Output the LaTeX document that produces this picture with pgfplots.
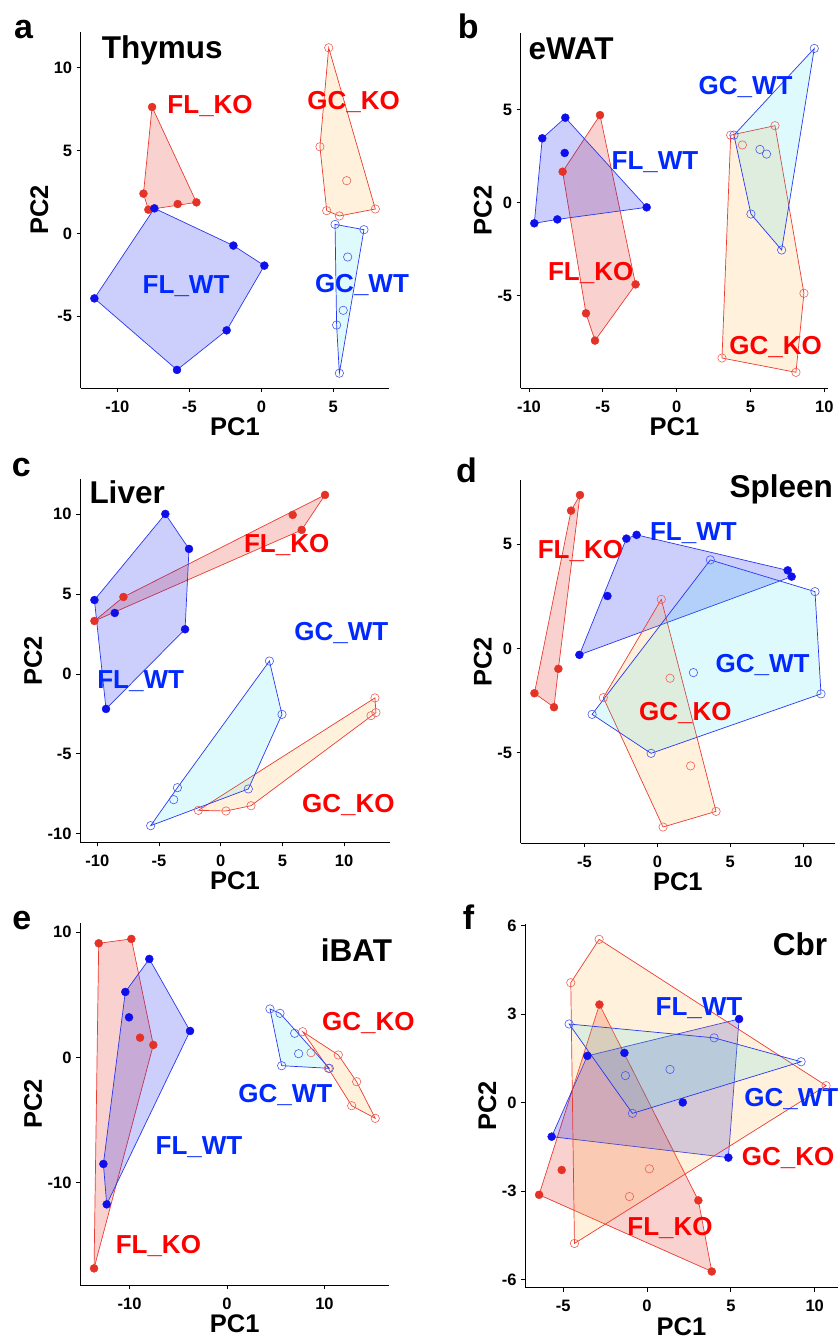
\documentclass[border=0pt]{standalone}
\usepackage{fontspec}
\setmainfont{Liberation Sans}
\usepackage{pgfplots}
\pgfplotsset{compat=1.18}

\definecolor{ptred}{RGB}{228,50,38}
\definecolor{ptblue}{RGB}{15,15,235}
\definecolor{opred}{RGB}{238,95,85}
\definecolor{opblue}{RGB}{70,90,240}
\definecolor{lnred}{RGB}{235,60,50}
\definecolor{lnblue}{RGB}{40,55,240}
\definecolor{txred}{RGB}{255,0,0}
\definecolor{txblue}{RGB}{0,40,255}
\definecolor{fwtfill}{RGB}{0,15,240}
\definecolor{gkofill}{RGB}{255,170,40}
\definecolor{gwtfill}{RGB}{0,215,240}

\pgfplotsset{
  pca/.style={
    scale only axis, anchor=south west, clip=false,
    axis lines=left, axis line style={-, line width=0.9pt, black},
    tick align=outside, major tick length=4pt,
    every tick/.style={black, line width=0.9pt},
    tick label style={font=\fontsize{16.5}{18}\selectfont\bfseries},
    xticklabel style={yshift=-5pt},
    yticklabel style={xshift=-1pt},
    /pgf/number format/assume math mode=true,
    label style={font=\fontsize{25.5}{28}\selectfont\bfseries},
    xlabel={PC1}, ylabel={PC2},
    xlabel style={at={(ticklabel cs:0.5)}, anchor=near ticklabel, inner sep=2pt},
    ylabel style={at={(ticklabel cs:0.5)}, anchor=near ticklabel, inner sep=2pt},
  },
  fko/.style={only marks, mark=*, mark size=4pt, color=ptred},
  fwt/.style={only marks, mark=*, mark size=4pt, color=ptblue},
  gko/.style={only marks, mark=o, mark size=4.2pt, color=opred, mark options={line width=0.6pt}},
  gwt/.style={only marks, mark=o, mark size=4.2pt, color=opblue, mark options={line width=0.6pt}},
  hfko/.style={draw=lnred, line width=0.7pt, fill=ptred, fill opacity=0.22},
  hfwt/.style={draw=lnblue, line width=0.7pt, fill=fwtfill, fill opacity=0.2},
  hgko/.style={draw=lnred, line width=0.7pt, fill=gkofill, fill opacity=0.17},
  hgwt/.style={draw=lnblue, line width=0.7pt, fill=gwtfill, fill opacity=0.13},
}

\tikzset{
  grp/.style={font=\fontsize{26}{30}\selectfont\bfseries, anchor=base, yshift=-9pt, inner sep=0pt},
  ttl/.style={anchor=base west, inner sep=0pt, font=\fontsize{31.5}{36}\selectfont\bfseries},
  lett/.style={anchor=base west, inner sep=0pt, font=\fontsize{34}{38}\selectfont\bfseries},
}

\begin{document}
\begin{tikzpicture}
\useasboundingbox (0,0) rectangle (838pt,1342pt);

% a Thymus
\begin{axis}[pca, at={(80.7pt,953.7pt)}, width=308.6pt, height=356.6pt,
  xmin=-12.55, xmax=8.89, ymin=-9.36, ymax=12.18,
  xtick={-10,-5,0,5}, ytick={-5,0,5,10}]
\addplot[fko] coordinates {(-7.59,7.63) (-8.19,2.40) (-7.85,1.43) (-5.81,1.77) (-4.51,1.87)};
\addplot[fwt] coordinates {(-7.43,1.51) (-1.94,-0.74) (0.21,-1.95) (-2.41,-5.86) (-5.86,-8.25) (-11.60,-3.93)};
\addplot[gko] coordinates {(4.68,11.21) (4.07,5.23) (5.93,3.18) (4.54,1.37) (5.42,1.05) (7.92,1.47)};
\addplot[gwt] coordinates {(5.12,0.54) (7.13,0.22) (6.00,-1.43) (5.69,-4.65) (5.23,-5.54) (5.42,-8.45)};
\addplot[hfko] coordinates {(-7.59,7.63) (-4.51,1.87) (-7.85,1.43) (-8.19,2.40)} -- cycle;
\addplot[hfwt] coordinates {(-7.43,1.51) (-1.94,-0.74) (0.21,-1.95) (-2.41,-5.86) (-5.86,-8.25) (-11.60,-3.93)} -- cycle;
\addplot[hgko] coordinates {(4.68,11.21) (7.92,1.47) (5.42,1.05) (4.54,1.37) (4.07,5.23)} -- cycle;
\addplot[hgwt] coordinates {(5.12,0.54) (7.13,0.22) (5.42,-8.45) (5.23,-5.54)} -- cycle;
\node[grp, txred] at (axis cs:-3.56,7.79) {FL\_KO};
\node[grp, txred] at (axis cs:6.41,8.05) {GC\_KO};
\node[grp, txblue] at (axis cs:-5.23,-3.08) {FL\_WT};
\node[grp, txblue] at (axis cs:6.99,-3.06) {GC\_WT};
\end{axis}

% b eWAT
\begin{axis}[pca, at={(520.7pt,953.7pt)}, width=307.6pt, height=355.6pt,
  xmin=-10.56, xmax=10.27, ymin=-10.0, ymax=9.16,
  xtick={-10,-5,0,5,10}, ytick={-5,0,5}]
\addplot[fko] coordinates {(-5.19,4.72) (-7.72,1.67) (-2.78,-4.40) (-6.14,-5.96) (-5.53,-7.43)};
\addplot[fwt] coordinates {(-7.54,4.58) (-9.10,3.47) (-7.58,2.68) (-2.03,-0.25) (-8.08,-0.90) (-9.64,-1.11)};
\addplot[gko] coordinates {(3.66,3.64) (4.45,3.11) (6.66,4.15) (8.62,-4.88) (8.08,-9.14) (3.07,-8.37)};
\addplot[gwt] coordinates {(9.32,8.31) (3.88,3.64) (5.64,2.87) (6.09,2.62) (5.03,-0.61) (7.11,-2.55)};
\addplot[hfko] coordinates {(-5.19,4.72) (-2.78,-4.40) (-5.53,-7.43) (-6.14,-5.96) (-7.72,1.67)} -- cycle;
\addplot[hfwt] coordinates {(-7.54,4.58) (-2.03,-0.25) (-8.08,-0.90) (-9.64,-1.11) (-9.10,3.47)} -- cycle;
\addplot[hgko] coordinates {(3.66,3.64) (6.66,4.15) (8.62,-4.88) (8.08,-9.14) (3.07,-8.37)} -- cycle;
\addplot[hgwt] coordinates {(9.32,8.31) (7.11,-2.55) (5.03,-0.61) (3.88,3.64)} -- cycle;
\node[grp, txblue] at (axis cs:4.67,6.34) {GC\_WT};
\node[grp, txblue] at (axis cs:-1.47,2.30) {FL\_WT};
\node[grp, txred] at (axis cs:-5.82,-3.72) {FL\_KO};
\node[grp, txred] at (axis cs:6.70,-7.72) {GC\_KO};
\end{axis}

% c Liver
\begin{axis}[pca, at={(80pt,499.7pt)}, width=310pt, height=363pt,
  xmin=-11.41, xmax=13.73, ymin=-10.54, ymax=12.19,
  xtick={-10,-5,0,5,10}, ytick={-10,-5,0,5,10}]
\addplot[fko] coordinates {(8.46,11.21) (5.84,9.96) (6.57,9.02) (-7.89,4.82) (-10.24,3.32)};
\addplot[fwt] coordinates {(-4.49,10.02) (-2.57,7.83) (-2.89,2.80) (-9.30,-2.19) (-10.24,4.63) (-8.59,3.82)};
\addplot[gko] coordinates {(12.51,-1.50) (12.59,-2.42) (12.19,-2.61) (2.46,-8.25) (0.43,-8.58) (-1.81,-8.54)};
\addplot[gwt] coordinates {(3.95,0.81) (4.97,-2.53) (2.24,-7.20) (-3.51,-7.12) (-3.81,-7.87) (-5.68,-9.50)};
\addplot[hfko] coordinates {(8.46,11.21) (6.57,9.02) (-10.24,3.32) (-7.89,4.82)} -- cycle;
\addplot[hfwt] coordinates {(-4.49,10.02) (-2.57,7.83) (-2.89,2.80) (-9.30,-2.19) (-10.24,4.63)} -- cycle;
\addplot[hgko] coordinates {(12.51,-1.50) (12.59,-2.42) (2.46,-8.25) (0.43,-8.58) (-1.81,-8.54)} -- cycle;
\addplot[hgwt] coordinates {(3.95,0.81) (4.97,-2.53) (2.24,-7.20) (-5.68,-9.50) (-3.51,-7.12)} -- cycle;
\node[grp, txred] at (axis cs:5.35,8.18) {FL\_KO};
\node[grp, txblue] at (axis cs:9.78,2.65) {GC\_WT};
\node[grp, txblue] at (axis cs:-6.49,-0.33) {FL\_WT};
\node[grp, txred] at (axis cs:10.35,-8.14) {GC\_KO};
\end{axis}

% d Spleen
\begin{axis}[pca, at={(520.7pt,498.7pt)}, width=314.3pt, height=363.3pt,
  xmin=-9.36, xmax=12.17, ymin=-9.33, ymax=8.08,
  xtick={-5,0,5,10}, ytick={-5,0,5}]
\addplot[fko] coordinates {(-5.30,7.36) (-5.91,6.61) (-6.78,-0.97) (-8.42,-2.14) (-7.08,-2.81)};
\addplot[fwt] coordinates {(-2.12,5.27) (-1.42,5.45) (8.93,3.75) (9.20,3.45) (-3.42,2.52) (-5.34,-0.30)};
\addplot[gko] coordinates {(0.27,2.36) (0.87,-1.42) (-3.70,-2.35) (2.28,-5.62) (4.02,-7.80) (0.39,-8.55)};
\addplot[gwt] coordinates {(3.63,4.25) (10.80,2.73) (11.21,-2.17) (-0.43,-5.02) (-4.47,-3.15) (2.47,-1.15)};
\addplot[hfko] coordinates {(-5.30,7.36) (-6.78,-0.97) (-7.08,-2.81) (-8.42,-2.14) (-5.91,6.61)} -- cycle;
\addplot[hfwt] coordinates {(-1.42,5.45) (8.93,3.75) (9.20,3.45) (-5.34,-0.30) (-2.12,5.27)} -- cycle;
\addplot[hgko] coordinates {(0.27,2.36) (4.02,-7.80) (0.39,-8.55) (-3.70,-2.35)} -- cycle;
\addplot[hgwt] coordinates {(3.63,4.25) (10.80,2.73) (11.21,-2.17) (-0.43,-5.02) (-4.47,-3.15)} -- cycle;
\node[grp, txblue] at (axis cs:2.47,5.61) {FL\_WT};
\node[grp, txred] at (axis cs:-5.27,4.73) {FL\_KO};
\node[grp, txblue] at (axis cs:7.21,-0.70) {GC\_WT};
\node[grp, txred] at (axis cs:1.92,-3.02) {GC\_KO};
\end{axis}

% e iBAT
\begin{axis}[pca, at={(80pt,57pt)}, width=309.3pt, height=361.7pt,
  xmin=-15.08, xmax=16.65, ymin=-18.21, ymax=10.72,
  xtick={-10,0,10}, ytick={-10,0,10}]
\addplot[fko] coordinates {(-13.16,9.12) (-9.81,9.47) (-7.56,0.99) (-8.92,1.57) (-13.64,-16.88)};
\addplot[fwt] coordinates {(-7.97,7.87) (-10.43,5.23) (-10.05,3.20) (-3.79,2.11) (-12.68,-8.53) (-12.34,-11.76)};
\addplot[gko] coordinates {(7.76,2.05) (8.62,0.37) (11.42,0.19) (13.30,-1.95) (12.79,-3.87) (15.21,-4.88) (10.39,-0.88)};
\addplot[gwt] coordinates {(4.41,3.87) (5.44,3.52) (6.94,1.92) (7.35,0.29) (5.61,-0.67) (10.50,-0.88)};
\addplot[hfko] coordinates {(-13.16,9.12) (-9.81,9.47) (-7.56,0.99) (-13.64,-16.88)} -- cycle;
\addplot[hfwt] coordinates {(-7.97,7.87) (-3.79,2.11) (-12.34,-11.76) (-12.68,-8.53) (-10.43,5.23)} -- cycle;
\addplot[hgko] coordinates {(7.76,2.05) (11.42,0.19) (13.30,-1.95) (15.21,-4.88) (12.79,-3.87) (10.39,-0.88)} -- cycle;
\addplot[hgwt] coordinates {(4.41,3.87) (5.44,3.52) (10.50,-0.88) (5.61,-0.67)} -- cycle;
\node[grp, txred] at (axis cs:14.50,2.85) {GC\_KO};
\node[grp, txblue] at (axis cs:5.98,-2.88) {GC\_WT};
\node[grp, txblue] at (axis cs:-2.87,-7.09) {FL\_WT};
\node[grp, txred] at (axis cs:-7.04,-15.01) {FL\_KO};
\end{axis}

% f Cbr
\begin{axis}[pca, at={(525pt,54.3pt)}, width=313pt, height=363.7pt,
  xmin=-7.28, xmax=11.39, ymin=-6.27, ymax=6.06,
  xtick={-5,0,5,10}, ytick={-6,-3,0,3,6}]
\addplot[fko] coordinates {(-2.84,3.33) (-6.44,-3.12) (-5.09,-2.28) (3.06,-3.31) (3.86,-5.72)};
\addplot[fwt] coordinates {(5.49,2.84) (-3.56,1.59) (-1.35,1.69) (2.13,0.01) (-5.69,-1.15) (4.85,-1.86)};
\addplot[gko] coordinates {(-2.86,5.54) (-4.55,4.07) (10.68,0.58) (0.14,-2.24) (-1.05,-3.18) (-4.33,-4.77)};
\addplot[gwt] coordinates {(-4.65,2.67) (4.00,2.20) (9.19,1.39) (1.37,1.13) (-1.29,0.92) (-0.87,-0.36)};
\addplot[hfko] coordinates {(-2.84,3.33) (3.06,-3.31) (3.86,-5.72) (-6.44,-3.12)} -- cycle;
\addplot[hfwt] coordinates {(5.49,2.84) (4.85,-1.86) (-5.69,-1.15) (-3.56,1.59)} -- cycle;
\addplot[hgko] coordinates {(-2.86,5.54) (10.68,0.58) (-4.33,-4.77) (-4.55,4.07)} -- cycle;
\addplot[hgwt] coordinates {(-4.65,2.67) (4.00,2.20) (9.19,1.39) (-0.87,-0.36)} -- cycle;
\node[grp, txblue] at (axis cs:3.10,3.28) {FL\_WT};
\node[grp, txblue, anchor=base west] at (axis cs:5.79,0.18) {GC\_WT};
\node[grp, txred] at (axis cs:8.41,-1.83) {GC\_KO};
\node[grp, txred] at (axis cs:1.37,-4.20) {FL\_KO};
\end{axis}

% titles and panel letters
\node[ttl] at (101.7pt,1283.7pt) {Thymus};
\node[ttl] at (528.3pt,1282.7pt) {eWAT};
\node[ttl] at (89.3pt,838pt) {Liver};
\node[ttl] at (729.3pt,844.3pt) {Spleen};
\node[ttl] at (320.7pt,380.3pt) {iBAT};
\node[ttl] at (772.7pt,386pt) {Cbr};
\node[lett] at (14pt,1303.7pt) {a};
\node[lett] at (457.7pt,1303.7pt) {b};
\node[lett] at (11.7pt,865.3pt) {c};
\node[lett] at (456pt,859.7pt) {d};
\node[lett] at (12.3pt,412.7pt) {e};
\node[lett] at (462.7pt,412.7pt) {f};
\end{tikzpicture}
\end{document}
